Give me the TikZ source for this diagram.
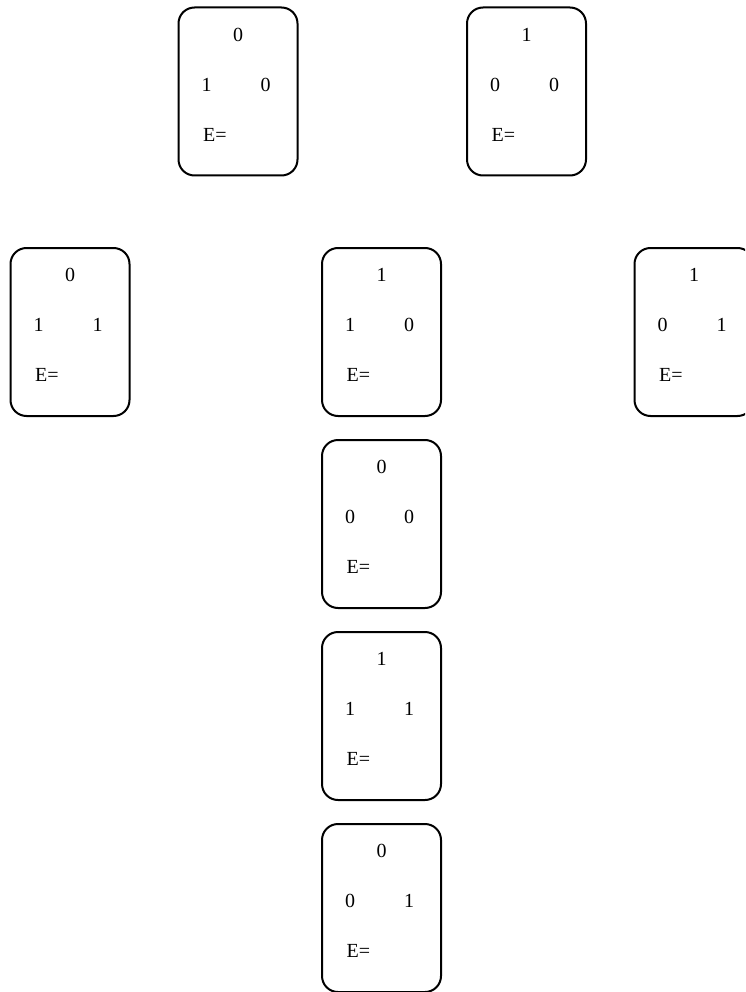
\documentclass[tikz,border=0pt]{standalone}
\usepackage{fontspec}
\setmainfont{Liberation Serif}
\begin{document}
\begin{tikzpicture}[x=1pt,y=-1pt,
  card/.style={draw, line width=2pt, rounded corners=16pt, minimum width=119pt, minimum height=168pt, inner sep=0pt},
  lbl/.style={font=\fontsize{20}{22}\selectfont, inner sep=0pt}]
\useasboundingbox (0,0) rectangle (745,992);
\clip (0,0) rectangle (745,992);
\newcommand{\mkcard}[6]{%
  \node[card] (#1) at (#2,#3) {};
  \node[lbl] (#1t) at ([yshift=57pt]#1.center) {#4};
  \node[lbl] (#1l) at ([xshift=-31.5pt,yshift=7pt]#1.center) {#5};
  \node[lbl] (#1r) at ([xshift=27.5pt,yshift=7pt]#1.center) {#6};
  \node[lbl, anchor=west] (#1e) at ([xshift=-35pt,yshift=-43pt]#1.center) {E=};
}
\mkcard{a}{238}{91.5}{0}{1}{0}
\mkcard{b}{526.5}{91.5}{1}{0}{0}
\mkcard{c}{70}{332}{0}{1}{1}
\mkcard{d}{381.5}{332}{1}{1}{0}
\mkcard{e}{694}{332}{1}{0}{1}
\mkcard{f}{381.5}{524}{0}{0}{0}
\mkcard{g}{381.5}{716}{1}{1}{1}
\mkcard{h}{381.5}{908}{0}{0}{1}
\end{tikzpicture}
\end{document}
